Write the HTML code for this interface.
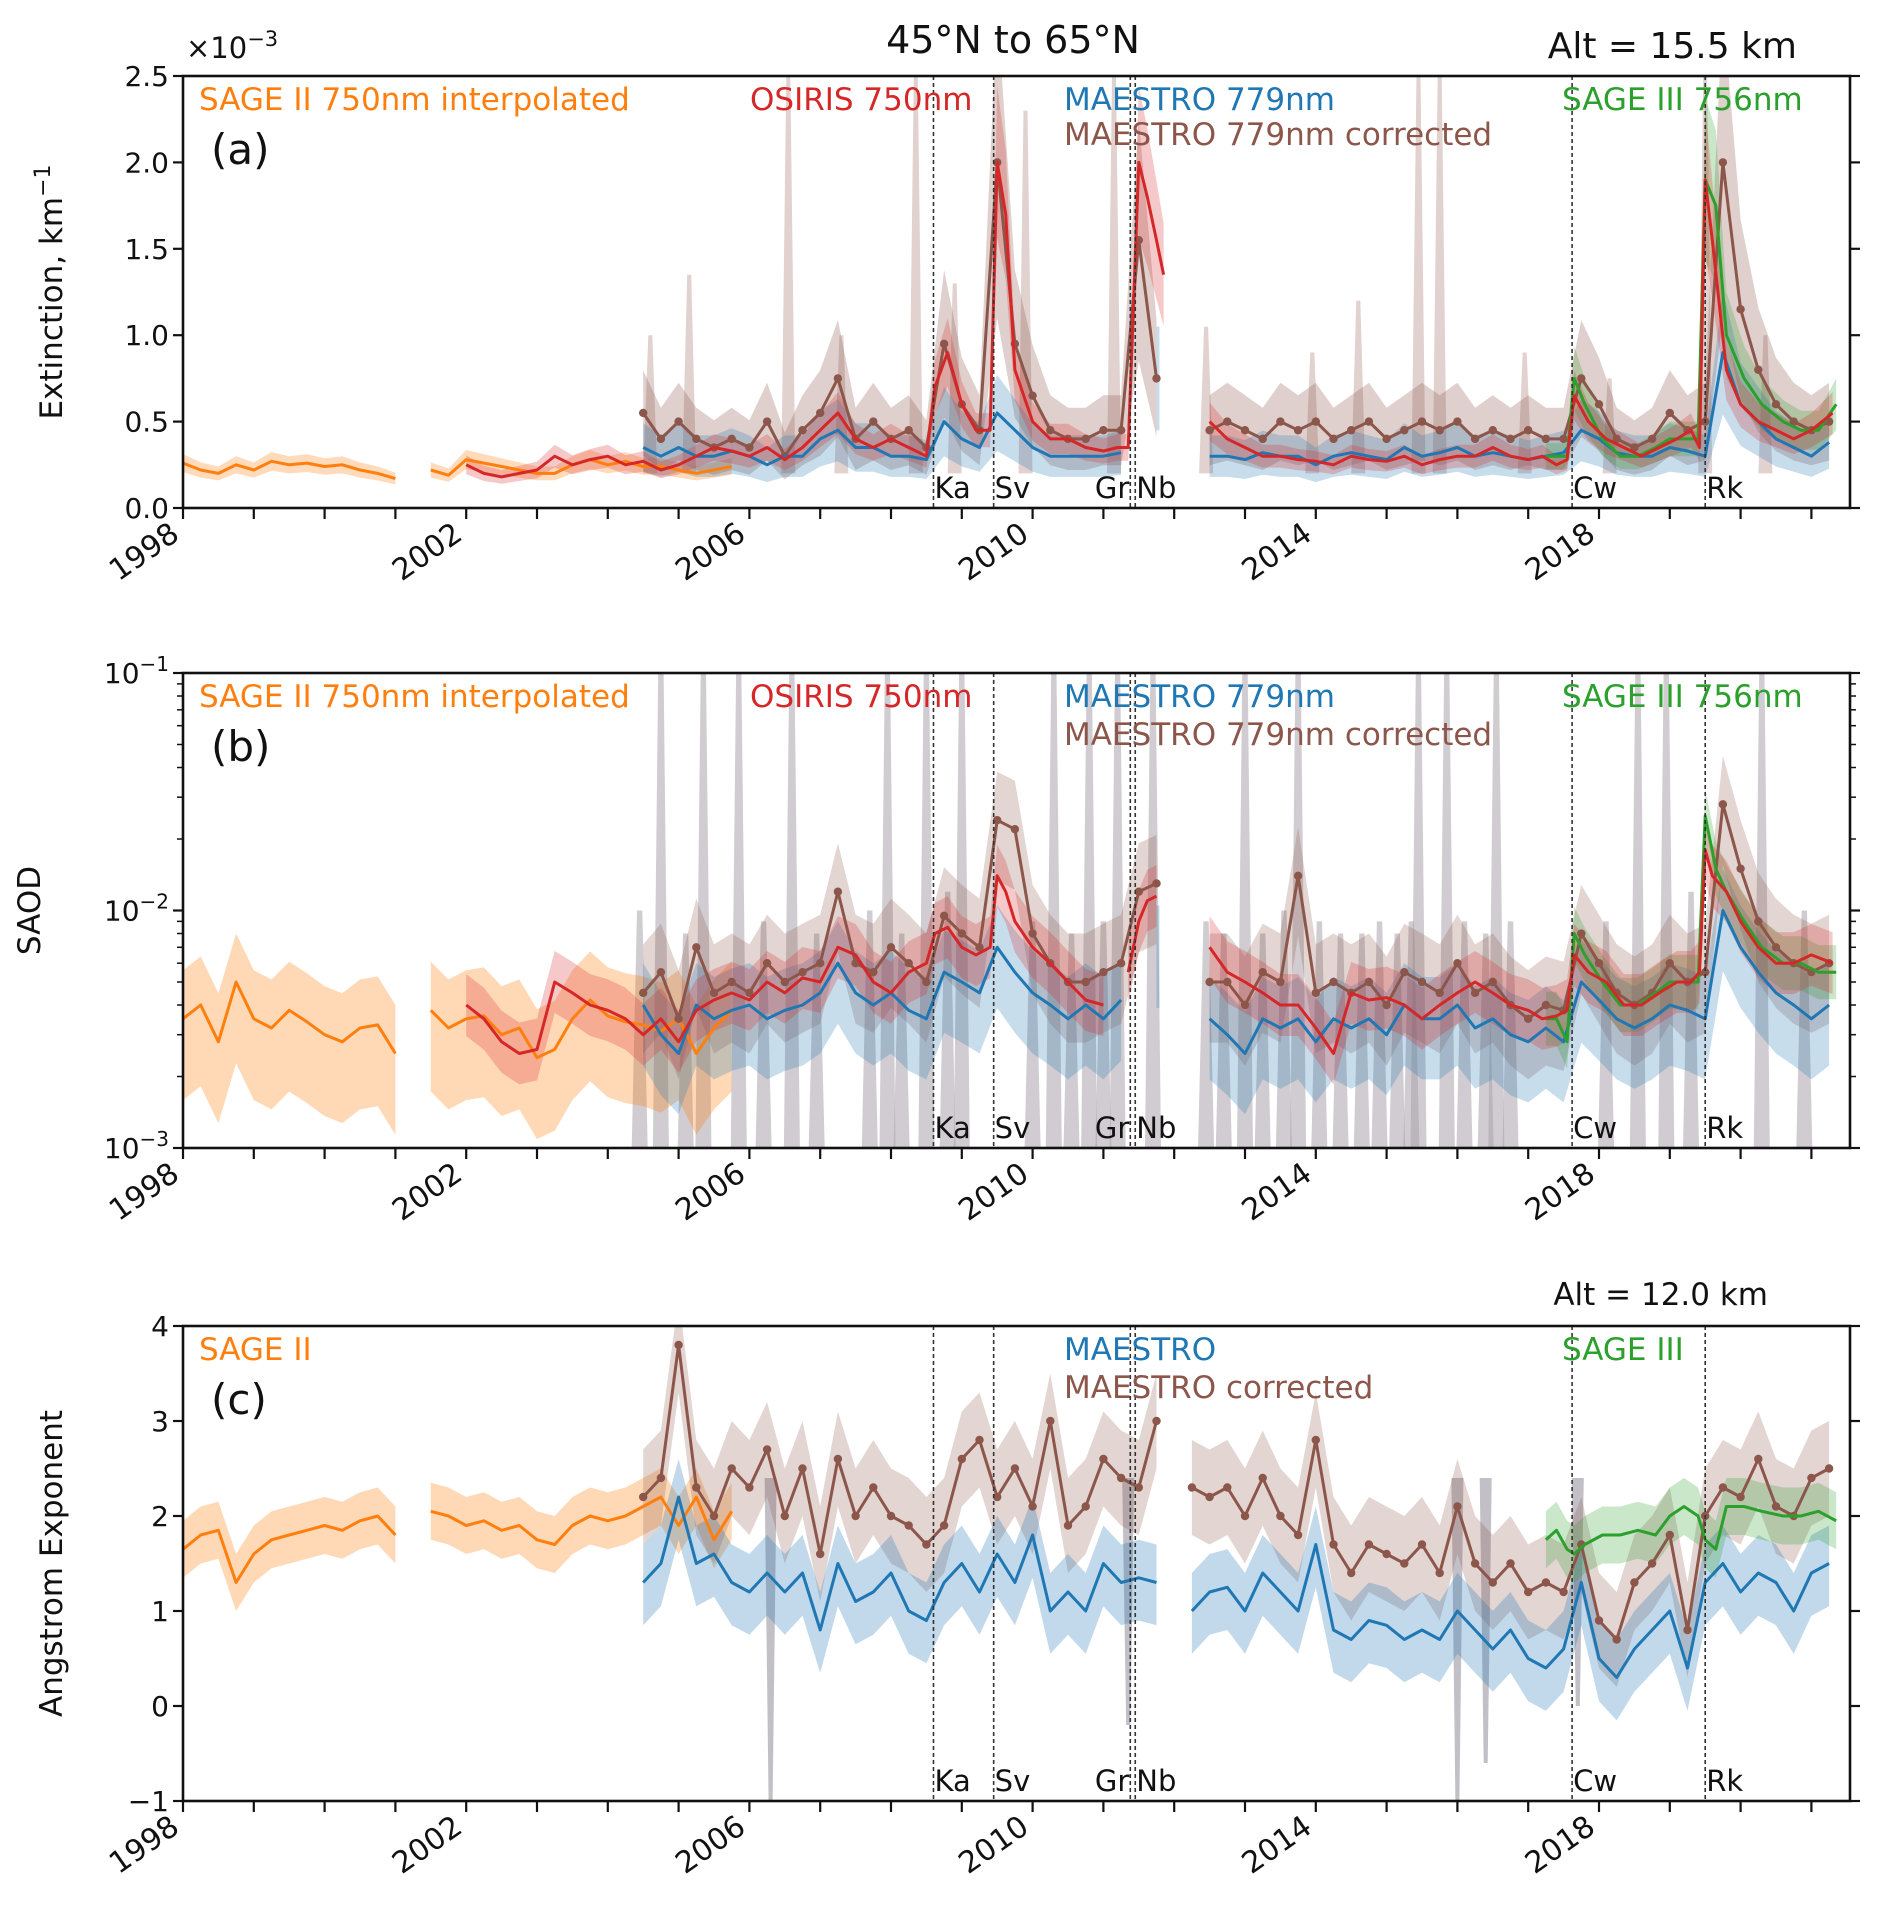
<!DOCTYPE html>
<html><head><meta charset="utf-8"><title>Extinction, SAOD and Angstrom exponent, 45°N to 65°N</title>
<style>
html,body{margin:0;padding:0;background:#fff;}
svg{display:block;font-family:"DejaVu Sans","Liberation Sans",sans-serif;}
</style></head>
<body>
<svg id="fig" xmlns="http://www.w3.org/2000/svg" width="1892" height="1922" viewBox="0 0 1892 1922">
<defs>
<clipPath id="clipA"><rect x="183" y="76" width="1667" height="432"/></clipPath>
<clipPath id="clipB"><rect x="183" y="673" width="1667" height="475"/></clipPath>
<clipPath id="clipC"><rect x="183" y="1326" width="1667" height="475"/></clipPath>
</defs>
<text x="1013" y="53" font-size="38" text-anchor="middle" fill="#111">45°N to 65°N</text>
<text x="1797" y="58" font-size="36" text-anchor="end" fill="#111">Alt = 15.5 km</text>
<text x="1768" y="1305" font-size="31" text-anchor="end" fill="#111">Alt = 12.0 km</text>
<text x="186" y="58" font-size="29" fill="#111">×10<tspan dy="-12" font-size="21">−3</tspan></text>
<g id="panels"></g>
</svg>
<script>
// ---------- data ----------
const eventNames = ["Ka","Sv","Gr","Nb","Cw","Rk"];
const eventYears = [2008.6,2009.45,2011.38,2011.45,2017.62,2019.5];

const sage2Years = [1998,1998.25,1998.5,1998.75,1999,1999.25,1999.5,1999.75,2000,2000.25,2000.5,2000.75,2001,2001.25,2001.5,2001.75,2002,2002.25,2002.5,2002.75,2003,2003.25,2003.5,2003.75,2004,2004.25,2004.5,2004.75,2005,2005.25,2005.5,2005.75];
const sage2ExtA  = [.26,.22,.2,.25, .22,.27,.25,.26, .24,.25,.22,.2, .17,null,.22,.19, .28,.26,.24,.22, .2,.2,.25,.28, .25,.27,.24,.24, .22,.2,.22,.24];
const sage2SaodB = [3.5,4,2.8,5, 3.5,3.2,3.8,3.4, 3,2.8,3.2,3.3, 2.5,null,3.8,3.2, 3.5,3.6,3,3.2, 2.4,2.6,3.5,4.2, 3.6,3.4,3.3,3.1, 3.5,2.5,3.2,3.8];
const sage2AngC  = [1.65,1.8,1.85,1.3, 1.6,1.75,1.8,1.85, 1.9,1.85,1.95,2.0, 1.8,null,2.05,2.0, 1.9,1.95,1.85,1.9, 1.75,1.7,1.9,2.0, 1.95,2.0,2.1,2.2, 1.9,2.2,1.75,2.05];

const osirisYears = [2002,2002.25,2002.5,2002.75,2003,2003.25,2003.5,2003.75,2004,2004.25,2004.5,2004.75,2005,2005.25,2005.5,2005.75,2006,2006.25,2006.5,2006.75,2007,2007.25,2007.5,2007.75,2008,2008.25,2008.5,
 2008.62,2008.8,2009,2009.2,2009.4,
 2009.5,2009.62,2009.75,2010,2010.25,2010.5,2010.75,2011,2011.2,2011.35,
 2011.5,2011.62,2011.75,2011.85,2012.2,
 2012.5,2012.75,2013,2013.25,2013.5,2013.75,2014,2014.25,2014.5,2014.75,2015,2015.25,2015.5,2015.75,2016,2016.25,2016.5,2016.75,2017,2017.2,2017.4,2017.55,
 2017.65,2017.85,2018.1,2018.35,2018.6,2018.85,2019.1,2019.3,2019.42,
 2019.5,2019.6,2019.8,2020,2020.25,2020.5,2020.75,2021,2021.3];
const osirisExtA = [.25,.2,.18,.2,.22,.3,.25,.28,.3,.25,.27,.22,.25,.3,.35, .33,.3,.35,.28,.35,.45,.55,.4,.35,.4,.35,.3,
 .7,.9,.6,.45,.45,
 2.0,1.7,.8,.5,.4,.4,.35,.33,.35,.35,
 2.0,1.8,1.55,1.35,null,
 .5,.4,.35,.3,.3,.28,.27,.25,.3,.28,.27,.3,.25,.28,.3,.3,.35,.3,.28,.3,.25,.28,
 .65,.5,.4,.35,.3,.35,.4,.45,.35,
 1.9,1.55,.8,.6,.5,.45,.4,.45,.55];
const osirisSaodB = [4,3.5,2.8,2.5,2.6,5,4.5,4,3.8,3.5,3,3.5,2.8,3.8,4.2, 4.5,4.2,5,4.5,5.2,5,7,6.5,5,4.5,5.5,6,
 8,8.5,7,6.5,7,
 14,12,9,7,6,5,4.2,4,null,5.5,
 9,11,11.5,null,null,
 7,5.5,5,4.5,4,4,3.2,2.5,4.5,4.2,4.3,4,3.5,4,4.5,5,4.5,4,3.8,3.5,3.6,3.8,
 6.5,5.5,5,4,4,4.5,5,5,5.5,
 18,14,12,9,7,6,6,6.5,6];

const maestroYears = [2004.5,2004.75,2005,2005.25,2005.5,
 2005.75,2006,2006.25,2006.5, 2006.75,2007,2007.25,2007.5, 2007.75,2008,2008.25,2008.5, 2008.75,2009,2009.25,2009.5,
 2009.75,2010,2010.25,2010.5, 2010.75,2011,2011.25,2011.5, 2011.75,2012,2012.25,2012.5, 2012.75,2013,2013.25,2013.5,
 2013.75,2014,2014.25,2014.5, 2014.75,2015,2015.25,2015.5, 2015.75,2016,2016.25,2016.5, 2016.75,2017,2017.25,2017.5,
 2017.75,2018,2018.25,2018.5, 2018.75,2019,2019.25,2019.5, 2019.75,2020,2020.25,2020.5, 2020.75,2021,2021.25];
const maestroExtA = [.35,.3,.35,.3,.3, .33,.3,.25,.3, .3,.4,.45,.35, .35,.3,.3,.28, .5,.4,.35,.55, .45,.35,.3,.3, .3,.3,.32,null,
 .75,null,null,.3, .3,.28,.32,.3, .3,.25,.3,.32, .3,.28,.35,.3, .32,.35,.3,.32, .3,.28,.3,.32, .45,.4,.32,.3, .3,.35,.33,.3, .9,.6,.5,.4, .35,.3,.38];
const maestroCorrExtA = [.55,.4,.5,.4,.35, .4,.35,.5,.3, .45,.55,.75,.4, .5,.4,.45,.35, .95,.6,.45,2.0, .95,.65,.45,.4, .4,.45,.45,1.55,
 .75,null,null,.45, .5,.45,.4,.5, .45,.5,.4,.45, .5,.4,.45,.5, .45,.5,.4,.45, .4,.45,.4,.4, .75,.6,.4,.35, .4,.55,.45,.5, 2.0,1.15,.8,.6, .5,.45,.5];
const maestroSaodB = [4,3,2.5,4,3.5, 3.8,4,3.5,3.8, 4,4.5,6,4.5, 4,4.5,3.8,3.5, 5.5,5,4.5,7, 5.5,4.5,4,3.5, 4,3.5,4.2,null,
 7,null,null,3.5, 3,2.5,3.5,3.2, 3.5,2.8,3.5,3.2, 3.5,3,4,3.5, 3.5,4,3.2,3.5, 3,2.8,3.2,2.8, 5,4.2,3.5,3.2, 3.5,4,3.8,3.5, 10,7,5.5,4.5, 4,3.5,4];
const maestroCorrSaodB = [4.5,5.5,3.5,7,4.5, 5,4.5,6,5, 5.5,6,12,6, 5.5,7,6,5, 9.5,8,7,24, 22,8,6,5, 5,5.5,6,12,
 13,null,null,5, 5,4,5.5,5, 14,4.5,5,4.5, 5,4,5.5,5, 4.5,6,4.5,5, 4,3.5,4,3.8, 8,6,4.5,4, 4.5,6,5,5.5, 28,15,9,7, 6,5.5,6];
const maestroAngC = [1.3,1.5,2.2,1.5,1.6, 1.3,1.2,1.4,1.2, 1.4,0.8,1.5,1.1, 1.2,1.4,1.0,0.9, 1.3,1.5,1.2,1.6, 1.3,1.8,1.0,1.2, 1.0,1.5,1.3,1.35,
 1.3,null,1.0,1.2, 1.25,1.0,1.4,1.2, 1.0,1.7,0.8,0.7, 0.9,0.85,0.7,0.8, 0.7,1.0,0.8,0.6, 0.8,0.5,0.4,0.6, 1.3,0.5,0.3,0.6, 0.8,1.0,0.4,1.3, 1.5,1.2,1.4,1.3, 1.0,1.4,1.5];
const maestroCorrAngC = [2.2,2.4,3.8,2.3,2.0, 2.5,2.3,2.7,2.0, 2.5,1.6,2.6,2.0, 2.3,2.0,1.9,1.7, 1.9,2.6,2.8,2.2, 2.5,2.1,3.0,1.9, 2.1,2.6,2.4,2.3,
 3.0,null,2.3,2.2, 2.3,2.0,2.4,2.0, 1.8,2.8,1.7,1.4, 1.7,1.6,1.5,1.7, 1.4,2.1,1.5,1.3, 1.5,1.2,1.3,1.2, 1.7,0.9,0.7,1.3, 1.5,1.8,0.8,2.0, 2.3,2.2,2.6,2.1, 2.0,2.4,2.5];

const sage3Years = [2017.25,2017.4,2017.55,2017.65,2017.8,2018.05,2018.3,2018.55,2018.8,2019.0,2019.2,2019.4,2019.5,2019.65,2019.8,2020.05,2020.3,2020.6,2020.85,2021.1,2021.35];
const sage3ExtA  = [.3,.3,.3,.75,.6,.4,.3,.3,.35,.4,.4,.4,1.9,1.75,1.0,.75,.6,.5,.45,.45,.6];
const sage3SaodB = [3.5,3.5,2.8,8,6.5,5,4,4,4.5,5,5,5,25,15,12,9,7,6,6,5.5,5.5];
const sage3AngC  = [1.75,1.85,1.65,1.6,1.7,1.8,1.8,1.85,1.8,2.0,2.1,2.0,1.75,1.65,2.1,2.1,2.05,2.0,2.0,2.05,1.95];

// uncertainty spikes (upper limits of error envelopes)
const spikeYearsA = [2004.6,2005.15,2006.55,2007.3,2008.35,2008.9,2009.9,2011.15,2012.45,2013.95,2014.6,2015.45,2015.75,2016.95,2018.15,2019.5,2020.35];
const spikeTopsA  = [1.0,1.35,2.5,1.0,2.5,1.3,2.3,2.5,1.05,0.9,1.2,2.5,2.5,0.9,0.75,2.5,1.0];
const spikeYearsB = [2004.75,2005.35,2005.85,2006.6,2007.95,2008.5,2009.0,2010.3,2010.8,2011.2,2011.7,2013.0,2013.75,2015.45,2015.85,2016.55,2018.55,2018.95,2020.3,2004.45,2005.1,2006.2,2006.95,2007.7,2008.15,2008.8,2010.0,2010.55,2011.0,2012.45,2012.7,2013.25,2013.55,2014.05,2014.35,2014.65,2014.9,2015.15,2015.35,2016.1,2016.4,2016.75,2018.1,2019.3,2020.9];
const spikeTopsB  = [100,100,100,100,100,100,100,100,100,100,100,100,100,100,100,100,100,100,100,10,8,9,8,10,8,12,9,8,9,9,8,8,10,9,8,8,9,8,9,9,8,9,9,12,10];
const spikeYearsC = [2006.3,2011.35,2016.0,2016.4,2017.7];
const spikeBotsC  = [-1,-0.2,-1,-0.6,0.0];

// ---------- geometry / style ----------
const X0 = 183, X1 = 1850, PXYR = 70.8;
const X = yr => X0 + (yr - 1998) * PXYR;
const col = {orange:"#ff7f0e", red:"#d62728", blue:"#1f77b4", brown:"#8c564b", green:"#2ca02c"};
const NS = "http://www.w3.org/2000/svg";
const root = document.getElementById("panels");

function mk(tag, attrs, parent){
  const e = document.createElementNS(NS, tag);
  for (const k in attrs) e.setAttribute(k, attrs[k]);
  (parent || root).appendChild(e);
  return e;
}

function linePath(years, vals, Y){
  let d = "", pen = false;
  for (let i = 0; i < years.length; i++){
    const v = vals[i];
    if (v === null || v === undefined){ pen = false; continue; }
    d += (pen ? "L" : "M") + X(years[i]).toFixed(1) + "," + Y(v).toFixed(1);
    pen = true;
  }
  return d;
}
function bandPath(years, vals, Y, lo, hi){
  let d = "", seg = [];
  const flush = () => {
    if (seg.length){
      const up = seg.map(i => X(years[i]).toFixed(1) + "," + Y(hi(vals[i])).toFixed(1));
      const dn = seg.slice().reverse().map(i => X(years[i]).toFixed(1) + "," + Y(lo(vals[i])).toFixed(1));
      if (seg.length === 1){ const x = X(years[seg[0]]); up.push((x+3).toFixed(1)+","+Y(hi(vals[seg[0]])).toFixed(1)); dn.unshift((x+3).toFixed(1)+","+Y(lo(vals[seg[0]])).toFixed(1)); }
      d += "M" + up.join("L") + "L" + dn.join("L") + "Z";
    }
    seg = [];
  };
  for (let i = 0; i < years.length; i++){
    if (vals[i] === null) flush(); else seg.push(i);
  }
  flush();
  return d;
}

function drawPanel(p){
  const g = mk("g", {});
  
  
  const plot = mk("g", {"clip-path": "url(#" + p.clip + ")"}, g);
  
  

  p.spikes.forEach(s => {
    const poly = mk("polygon", {points: s, fill: p.spikeFill, opacity: 0.55}, plot);
    
    
  });

  p.series.forEach(s => {
    const b = mk("path", {d: bandPath(s.years, s.vals, p.Y, s.lo, s.hi), fill: s.color, opacity: s.bandOp}, plot);
    
    
  });
  p.series.forEach(s => {
    const l = mk("path", {d: linePath(s.years, s.vals, p.Y), fill: "none", stroke: s.color, "stroke-width": 3, "stroke-linejoin": "round"}, plot);
    
    
    if (s.dots){
      s.years.forEach((yr, i) => {
        if (s.vals[i] === null) return;
        const c = mk("circle", {cx: X(yr), cy: p.Y(s.vals[i]), r: 4.2, fill: s.color}, plot);
        
        
      });
    }
  });

  eventYears.forEach((ey, i) => {
    const ln = mk("line", {x1: X(ey), x2: X(ey), y1: p.top, y2: p.bot, stroke: "#333", "stroke-width": 1.6, "stroke-dasharray": "4,3"}, g);
    
    
    if (eventNames[i] === "Gr") return;
    const t = mk("text", {x: X(ey) + 1, y: p.bot - 10, "font-size": 29, fill: "#111"}, g);
    t.textContent = eventNames[i];
    
    
  });
  const gr = mk("text", {x: X(eventYears[2]) - 1, y: p.bot - 10, "font-size": 29, fill: "#111", "text-anchor": "end"}, g);
  gr.textContent = "Gr";
  
  

  const fr = mk("rect", {x: X0, y: p.top, width: X1 - X0, height: p.bot - p.top, fill: "none", stroke: "#111", "stroke-width": 2.6}, g);
  
  

  p.yticks.forEach((tv, i) => {
    const y = p.Y(tv);
    mk("line", {x1: X0 - 10, x2: X0, y1: y, y2: y, stroke: "#111", "stroke-width": 2.2}, g);
    mk("line", {x1: X1, x2: X1 + 10, y1: y, y2: y, stroke: "#111", "stroke-width": 2.2}, g);
    const t = mk("text", {x: X0 - 14, y: y + 10, "font-size": 28, "text-anchor": "end", fill: "#111"}, g);
    
    
    if (p.logLabels){
      t.textContent = "10";
      const ts = mk("tspan", {dy: -12, "font-size": 20}, t);
      ts.textContent = p.ytickLabels[i];
    } else t.textContent = p.ytickLabels[i];
  });
  (p.yminor || []).forEach(tv => {
    const y = p.Y(tv);
    mk("line", {x1: X0 - 6, x2: X0, y1: y, y2: y, stroke: "#111", "stroke-width": 1.5}, g);
    mk("line", {x1: X1, x2: X1 + 6, y1: y, y2: y, stroke: "#111", "stroke-width": 1.5}, g);
  });

  for (let yr = 1998; yr <= 2021; yr++){
    mk("line", {x1: X(yr), x2: X(yr), y1: p.bot, y2: p.bot + 11, stroke: "#111", "stroke-width": 2.2}, g);
  }
  xTickLabels.forEach(lbl => {
    const x = X(+lbl) - 2, y = p.bot + 30;
    const t = mk("text", {x: x, y: y, "font-size": 30, "text-anchor": "end", fill: "#111", transform: "rotate(-35 " + x + " " + y + ")"}, g);
    t.textContent = lbl;
    
    
  });

  const yt = mk("text", {x: p.ytX, y: (p.top + p.bot) / 2, "font-size": 31, "text-anchor": "middle", fill: "#111", transform: "rotate(-90 " + p.ytX + " " + (p.top + p.bot) / 2 + ")"}, g);
  
  
  yt.innerHTML = p.ytitle;

  const pl = mk("text", {x: 211, y: p.top + 88, "font-size": 42, fill: "#111"}, g);
  pl.textContent = p.letter;
  
  

  p.legend.forEach(L => {
    const t = mk("text", {x: L[1], y: p.top + L[2], "font-size": 31, fill: L[3]}, g);
    t.textContent = L[0];
    
    
  });
}

const xTickLabels = ["1998","2002","2006","2010","2014","2018"];

const YA = v => 508 - v / 2.5 * 432;
const fa = f => [v => v * (1 - f), v => v * (1 + f)];
function spikePolys(years, tops, Y, base, w){
  return years.map((yr, i) => {
    const x = X(yr);
    return (x - w).toFixed(1) + "," + Y(base).toFixed(1) + " " + (x - 2).toFixed(1) + "," + Y(tops[i]).toFixed(1) + " " + (x + 2).toFixed(1) + "," + Y(tops[i]).toFixed(1) + " " + (x + w).toFixed(1) + "," + Y(base).toFixed(1);
  });
}
drawPanel({
  name: "panel-a-extinction", clip: "clipA", top: 76, bot: 508, Y: YA, letter: "(a)", ytX: 62,
  ytitle: 'Extinction, km<tspan dy="-12" font-size="22">−1</tspan>',
  yticks: [0, 0.5, 1.0, 1.5, 2.0, 2.5], ytickLabels: ["0.0","0.5","1.0","1.5","2.0","2.5"],
  spikes: spikePolys(spikeYearsA, spikeTopsA, YA, 0.2, 7), spikeFill: "#c8aca8",
  series: [
    {id:"sage-ii", years: sage2Years, vals: sage2ExtA, color: col.orange, bandOp: .28, lo: fa(.2)[0], hi: fa(.2)[1]},
    {id:"maestro-corrected", years: maestroYears, vals: maestroCorrExtA, color: col.brown, bandOp: .28, lo: fa(.45)[0], hi: fa(.45)[1], dots: true},
    {id:"maestro", years: maestroYears, vals: maestroExtA, color: col.blue, bandOp: .25, lo: fa(.4)[0], hi: fa(.4)[1]},
    {id:"sage-iii", years: sage3Years, vals: sage3ExtA, color: col.green, bandOp: .25, lo: fa(.25)[0], hi: fa(.25)[1]},
    {id:"osiris", years: osirisYears, vals: osirisExtA, color: col.red, bandOp: .25, lo: fa(.22)[0], hi: fa(.22)[1]}
  ],
  legend: [["SAGE II 750nm interpolated",199,34,col.orange],["OSIRIS 750nm",750,34,col.red],["MAESTRO 779nm",1064,34,col.blue],["MAESTRO 779nm corrected",1064,69,col.brown],["SAGE III 756nm",1562,34,col.green]]
});

const YB = v => 1148 - (Math.log10(v) - 0) / 2 * 475;
const fb = f => [v => v / f, v => v * f];
const minorB = [2,3,4,5,6,7,8,9,20,30,40,50,60,70,80,90];
function colPolys(years, tops, Y, w){
  return years.map((yr, i) => {
    const x = X(yr);
    return (x - w).toFixed(1) + "," + Y(1).toFixed(1) + " " + (x - w/3).toFixed(1) + "," + Y(tops[i]).toFixed(1) + " " + (x + w/3).toFixed(1) + "," + Y(tops[i]).toFixed(1) + " " + (x + w).toFixed(1) + "," + Y(1).toFixed(1);
  });
}
drawPanel({
  name: "panel-b-saod", clip: "clipB", top: 673, bot: 1148, Y: YB, letter: "(b)", ytX: 40,
  ytitle: "SAOD",
  yticks: [1, 10, 100], ytickLabels: ["−3","−2","−1"], logLabels: true, yminor: minorB,
  spikes: colPolys(spikeYearsB, spikeTopsB, YB, 8), spikeFill: "#a9a3ab",
  series: [
    {id:"sage-ii", years: sage2Years, vals: sage2SaodB, color: col.orange, bandOp: .3, lo: fb(2.2)[0], hi: fb(1.6)[1]},
    {id:"maestro-corrected", years: maestroYears, vals: maestroCorrSaodB, color: col.brown, bandOp: .25, lo: fb(1.8)[0], hi: fb(1.6)[1], dots: true},
    {id:"maestro", years: maestroYears, vals: maestroSaodB, color: col.blue, bandOp: .25, lo: fb(1.8)[0], hi: fb(1.5)[1]},
    {id:"sage-iii", years: sage3Years, vals: sage3SaodB, color: col.green, bandOp: .25, lo: fb(1.3)[0], hi: fb(1.3)[1]},
    {id:"osiris", years: osirisYears, vals: osirisSaodB, color: col.red, bandOp: .25, lo: fb(1.35)[0], hi: fb(1.35)[1]}
  ],
  legend: [["SAGE II 750nm interpolated",199,34,col.orange],["OSIRIS 750nm",750,34,col.red],["MAESTRO 779nm",1064,34,col.blue],["MAESTRO 779nm corrected",1064,72,col.brown],["SAGE III 756nm",1562,34,col.green]]
});

const YC = v => 1801 - (v + 1) / 5 * 475;
const fc = d => [v => v - d, v => v + d];
function downPolys(years, bots, Y, w){
  return years.map((yr, i) => {
    const x = X(yr);
    return (x - w).toFixed(1) + "," + Y(2.4).toFixed(1) + " " + (x - w/3).toFixed(1) + "," + Y(bots[i]).toFixed(1) + " " + (x + w/3).toFixed(1) + "," + Y(bots[i]).toFixed(1) + " " + (x + w).toFixed(1) + "," + Y(2.4).toFixed(1);
  });
}
drawPanel({
  name: "panel-c-angstrom", clip: "clipC", top: 1326, bot: 1801, Y: YC, letter: "(c)", ytX: 62,
  ytitle: "Angstrom Exponent",
  yticks: [-1,0,1,2,3,4], ytickLabels: ["−1","0","1","2","3","4"],
  spikes: downPolys(spikeYearsC, spikeBotsC, YC, 6), spikeFill: "#8f8a99",
  series: [
    {id:"sage-ii", years: sage2Years, vals: sage2AngC, color: col.orange, bandOp: .3, lo: fc(.3)[0], hi: fc(.3)[1]},
    {id:"maestro-corrected", years: maestroYears, vals: maestroCorrAngC, color: col.brown, bandOp: .25, lo: fc(.5)[0], hi: fc(.5)[1], dots: true},
    {id:"maestro", years: maestroYears, vals: maestroAngC, color: col.blue, bandOp: .28, lo: fc(.45)[0], hi: fc(.4)[1]},
    {id:"sage-iii", years: sage3Years, vals: sage3AngC, color: col.green, bandOp: .25, lo: fc(.3)[0], hi: fc(.3)[1]}
  ],
  legend: [["SAGE II",199,34,col.orange],["MAESTRO",1064,34,col.blue],["MAESTRO corrected",1064,72,col.brown],["SAGE III",1562,34,col.green]]
});
</script>
</body></html>
